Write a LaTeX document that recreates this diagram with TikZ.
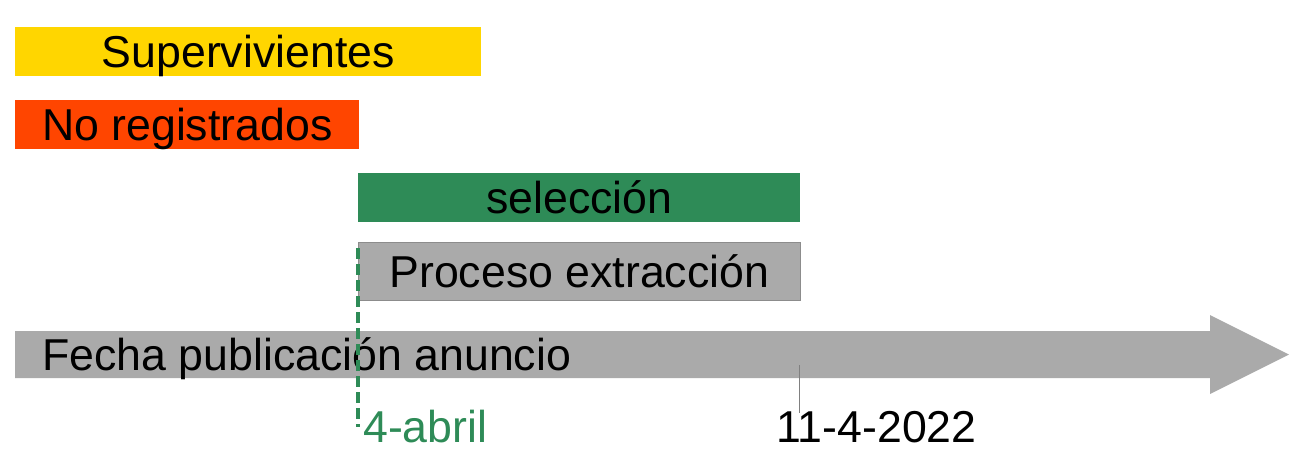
\documentclass[tikz,border=0pt]{standalone}
\usepackage{fontspec}
\setmainfont{Liberation Sans}
\definecolor{amarillo}{HTML}{FFD600}
\definecolor{naranja}{HTML}{FF4500}
\definecolor{verde}{HTML}{2E8B57}
\definecolor{gris}{HTML}{AAAAAA}
\begin{document}
\begin{tikzpicture}[x=0.75pt, y=-0.75pt, bar/.style = {inner sep=0pt, minimum height=49*0.75pt, text height=24pt, text depth=0pt, font=\fontsize{33.5}{38}\selectfont, anchor=north west}, label/.style = {inner sep=0pt, font=\fontsize{33.5}{38}\selectfont, anchor=base west}]

    \useasboundingbox (0,0) rectangle (1301,469);

    % 1. Paski okresów
    \node[bar, fill=amarillo, minimum width=466*0.75pt] (superv) at (15,27) {Supervivientes};
    \node[bar, fill=naranja, minimum width=344*0.75pt] (noreg) at (15,100) {No registrados};
    \node[bar, fill=verde, minimum width=442*0.75pt] (selec) at (358,173) {selección};
    \node[bar, fill=gris, draw=gray!90, minimum width=442*0.75pt, minimum height=58*0.75pt] (proceso) at (358,242) {Proceso extracción};

    % 2. Oś czasu
    \fill[gris] (15,331) -- (1210,331) -- (1210,315) -- (1289,354.5) -- (1210,394) -- (1210,378) -- (15,378) -- cycle;
    \node[label, anchor=west, text height=24pt, text depth=0pt] (fecha) at (42,354.5) {Fecha publicación anuncio};

    % 3. Daty
    \node[label, text=verde] (abril) at (363,442) {4-abril};
    \node[label] (dia) at (776,442) {11-4-2022};
    \coordinate (abrilTop) at (358,248);
    \coordinate (abrilBot) at (358,427);
    \coordinate (diaTop) at (799,365);
    \coordinate (diaBot) at (799,413);
    \draw[verde, line width=2.5pt, dash pattern=on 8pt off 4pt] (abrilTop) -- (abrilBot);
    \draw[gray, line width=0.7pt] (diaTop) -- (diaBot);
\end{tikzpicture}
\end{document}
